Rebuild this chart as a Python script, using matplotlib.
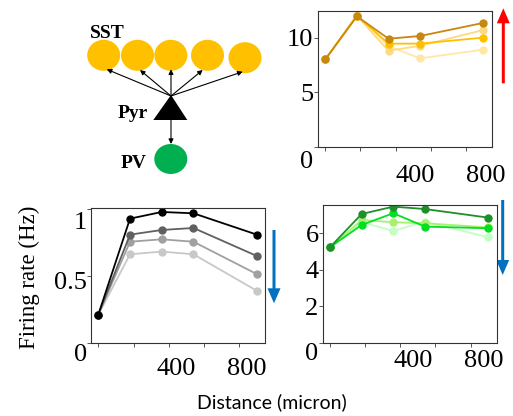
import matplotlib
matplotlib.use("Agg")
import matplotlib.pyplot as plt
from matplotlib.patches import Ellipse, Polygon
from matplotlib.transforms import ScaledTranslation

# distance of the recorded cells (micron)
distance = [0, 180, 360, 540, 900]

# SST firing rates, darkest -> palest
sst_dark = [8.0, 11.95, 9.9, 10.15, 11.35]
sst_gold = [8.0, 12.0, 9.45, 9.45, 10.0]
sst_light = [8.0, 12.0, 8.8, 9.25, 10.7]
sst_pale = [8.0, 12.1, 9.2, 8.1, 8.9]

# Pyr firing rates
pyr_black = [0.21, 0.93, 0.98, 0.97, 0.81]
pyr_dark = [0.21, 0.81, 0.845, 0.86, 0.65]
pyr_mid = [0.21, 0.757, 0.775, 0.757, 0.514]
pyr_light = [0.21, 0.663, 0.683, 0.663, 0.389]

# PV firing rates
pv_dark = [5.23, 7.05, 7.45, 7.32, 6.85]
pv_bright = [5.23, 6.45, 7.09, 6.36, 6.27]
pv_light = [5.23, 6.72, 6.6, 6.54, 6.32]
pv_pale = [5.23, 6.6, 6.12, 6.63, 5.78]

xticks = [0, 200, 400, 600, 800]
xticklabels = ["", "", "400", "", "800"]

W, H = 513, 416
fig = plt.figure(figsize=(W / 100, H / 100), dpi=100)

def px_axes(left, top, right, bottom):
    return fig.add_axes([left / W, 1 - bottom / H, (right - left) / W, (bottom - top) / H])

# overlay in pixel units for the diagram and the big arrows
ov = fig.add_axes([0, 0, 1, 1])
ov.set_xlim(0, W)
ov.set_ylim(H, 0)
ov.set_axis_off()

serif = "Liberation Serif"

def offset(lab, dx, dy):
    lab.set_transform(lab.get_transform() + ScaledTranslation(dx / 100, -dy / 100, fig.dpi_scale_trans))

def style(ax, xlim, ylim, yticks, xpad, xdx, zero_dy):
    ax.set_xlim(*xlim)
    ax.set_ylim(*ylim)
    ax.set_xticks(xticks)
    ax.set_xticklabels(xticklabels, fontfamily=serif, fontsize=19)
    ax.set_yticks(yticks)
    ax.set_yticklabels([("%g" % t) for t in yticks], fontfamily=serif, fontsize=19)
    ax.tick_params(axis="both", direction="out", length=3, width=0.7, color="#555555")
    ax.tick_params(axis="x", pad=xpad)
    ax.tick_params(axis="y", pad=0)
    for s in ax.spines.values():
        s.set_color("#333333")
        s.set_linewidth(0.8)
    for lab in ax.get_xticklabels():
        offset(lab, xdx, 0)
    offset(ax.get_yticklabels()[0], 0, zero_dy)

def draw(ax, series, colors):
    for ys, c in zip(series, colors):
        ax.plot(distance, ys, "-o", color=c, lw=1.3, ms=5, mec=c)

# top right: SST
ax1 = px_axes(317.7, 11, 492, 146.7)
draw(ax1, [sst_pale, sst_light, sst_gold, sst_dark],
     ["#FFE7A6", "#FFD980", "#FFC000", "#C8870E"])
style(ax1, (-43, 949), (0, 12.44), [0, 5, 10], 10, 20, 13)

# bottom left: Pyr
ax2 = px_axes(91, 207.7, 265, 342.7)
draw(ax2, [pyr_light, pyr_mid, pyr_dark, pyr_black],
     ["#C8C8C8", "#A0A0A0", "#606060", "#000000"])
style(ax2, (-41.4, 946), (0, 1.012), [0, 0.5, 1], 8, 7, 10)
offset(ax2.get_yticklabels()[2], 0, 11)
offset(ax2.get_yticklabels()[1], 0, 4)

# bottom right: PV
ax3 = px_axes(322.7, 205, 496.5, 343)
draw(ax3, [pv_pale, pv_light, pv_bright, pv_dark],
     ["#C2FFC2", "#A8F070", "#00E020", "#1F8F2A"])
style(ax3, (-41.5, 947), (0, 7.54), [0, 2, 4, 6], 2, 13, 9)

fig.text(29 / W, 1 - 277.5 / H, "Firing rate (Hz)", rotation=90, ha="center", va="center",
         fontfamily=serif, fontsize=16.5)
fig.text(271.5 / W, 1 - 402.7 / H, "Distance (micron)", ha="center", va="center",
         fontfamily="Lato", fontsize=14)

# circuit diagram
sst_x = [103.7, 137.5, 170.8, 207.5, 245]
sst_y = [55.3, 55.3, 55.3, 55.3, 57.7]
for x, y in zip(sst_x, sst_y):
    ov.add_patch(Ellipse((x, y), 33, 31, color="#FFC000", lw=0))
ov.add_patch(Ellipse((170.8, 159), 33, 30, color="#00B050", lw=0))
ov.add_patch(Polygon([(171, 95), (153.3, 120), (187.3, 120)], closed=True, color="black", lw=0))
tips = [(106.7, 69.3), (140, 70), (171, 69.3), (202.7, 70), (242.7, 71.7)]
for t in tips:
    ov.annotate("", xy=t, xytext=(171, 96),
                arrowprops=dict(arrowstyle="-|>", color="black", lw=0.8,
                                mutation_scale=7, shrinkA=0, shrinkB=0))
ov.annotate("", xy=(171, 144), xytext=(171, 120),
            arrowprops=dict(arrowstyle="-|>", color="black", lw=0.8,
                            mutation_scale=7, shrinkA=0, shrinkB=0))
ov.text(90, 33, "SST", fontfamily=serif, fontweight="bold", fontsize=14, ha="left", va="center")
ov.text(148, 113, "Pyr", fontfamily=serif, fontweight="bold", fontsize=14, ha="right", va="center")
ov.text(147, 163, "PV", fontfamily=serif, fontweight="bold", fontsize=14, ha="right", va="center")

# direction arrows
ov.arrow(503.3, 83.3, 0, -75, width=3, head_width=13, head_length=15,
         length_includes_head=True, color="#FF0000", lw=0)
ov.arrow(274, 230, 0, 73.3, width=3, head_width=13, head_length=15,
         length_includes_head=True, color="#0070C0", lw=0)
ov.arrow(502.7, 200, 0, 75, width=3, head_width=13, head_length=15,
         length_includes_head=True, color="#0070C0", lw=0)

fig.savefig("out.png", dpi=100)
